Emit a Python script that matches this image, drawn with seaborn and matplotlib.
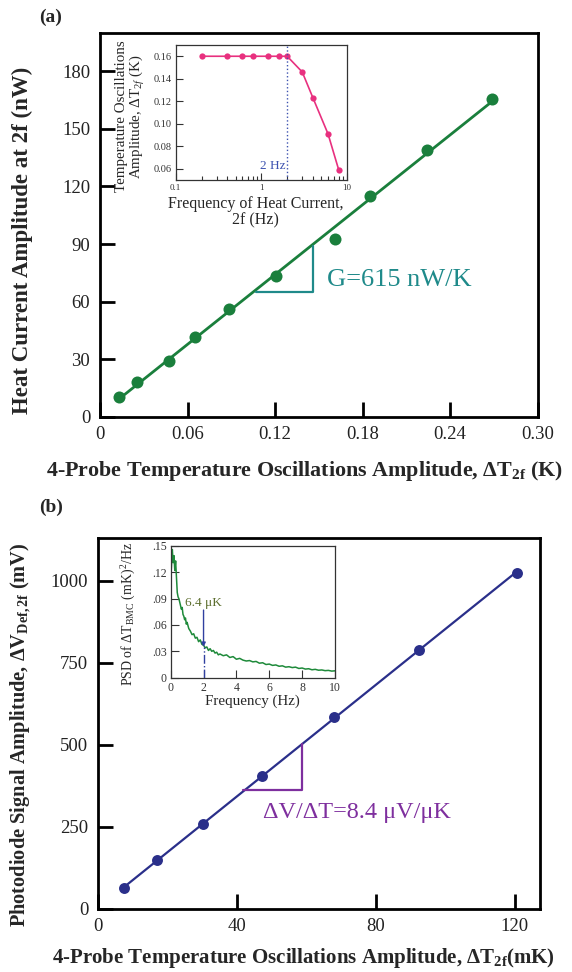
import numpy as np
import pandas as pd
import matplotlib.pyplot as plt
import seaborn as sns

# ── panel (a): heat current vs 4-probe temperature amplitude ──
dt_a = [0.0133, 0.0255, 0.047, 0.0653, 0.0886, 0.1205, 0.1608, 0.1848, 0.2243, 0.2685]
heat_a = [10.1, 18.3, 28.8, 41.4, 56.0, 73.4, 92.8, 114.8, 139.0, 165.4]
xticks_a = [0, 0.06, 0.12, 0.18, 0.24, 0.30]
xticklabels_a = ["0", "0.06", "0.12", "0.18", "0.24", "0.30"]
yticks_a = [0, 30, 60, 90, 120, 150, 180]

# inset (a): temperature oscillation amplitude vs frequency
freq_a = [0.2, 0.4, 0.6, 0.8, 1.2, 1.6, 2.0, 3.0, 4.0, 6.0, 8.0]
amp_a = [0.16, 0.16, 0.16, 0.16, 0.16, 0.16, 0.16, 0.146, 0.123, 0.091, 0.059]
yticks_ia = [0.06, 0.08, 0.10, 0.12, 0.14, 0.16]

# ── panel (b): photodiode signal vs 4-probe temperature amplitude ──
dt_b = [7.6, 17.0, 30.1, 47.2, 67.9, 92.4, 120.5]
sig_b = [64, 147, 259, 404, 583, 790, 1024]
xticks_b = [0, 40, 80, 120]
yticks_b = [0, 250, 500, 750, 1000]

# inset (b): PSD of the temperature noise
psd_freq = [0.02, 0.05, 0.10, 0.15, 0.20, 0.25, 0.30, 0.35, 0.40, 0.45,
            0.50, 0.55, 0.60, 0.65, 0.70, 0.75, 0.80, 0.85, 0.90, 0.95,
            1.0, 1.1, 1.2, 1.3, 1.4, 1.5, 1.6, 1.7, 1.8, 1.9,
            2.0, 2.1, 2.2, 2.3, 2.4, 2.5, 2.6, 2.7, 2.8, 2.9,
            3.0, 3.2, 3.4, 3.6, 3.8, 4.0, 4.2, 4.4, 4.6, 4.8,
            5.0, 5.2, 5.4, 5.6, 5.8, 6.0, 6.2, 6.4, 6.6, 6.8,
            7.0, 7.2, 7.4, 7.6, 7.8, 8.0, 8.2, 8.4, 8.6, 8.8,
            9.0, 9.2, 9.4, 9.6, 9.8, 10.0]
psd_val = [0.118, 0.128, 0.146, 0.131, 0.139, 0.122, 0.133, 0.115, 0.097, 0.092,
           0.090, 0.086, 0.082, 0.078, 0.080, 0.072, 0.070, 0.066, 0.068, 0.061,
           0.063, 0.056, 0.053, 0.049, 0.050, 0.045, 0.046, 0.041, 0.043, 0.038,
           0.037, 0.034, 0.035, 0.031, 0.033, 0.030, 0.031, 0.028, 0.029, 0.026,
           0.027, 0.025, 0.026, 0.023, 0.024, 0.021, 0.022, 0.020, 0.019, 0.0195,
           0.018, 0.0185, 0.0165, 0.017, 0.015, 0.0155, 0.014, 0.0145, 0.013, 0.0135,
           0.012, 0.0125, 0.0115, 0.012, 0.0105, 0.011, 0.0098, 0.0102, 0.009, 0.0095,
           0.0085, 0.0088, 0.008, 0.0083, 0.0075, 0.0078]
yticks_ib = [0, 0.03, 0.06, 0.09, 0.12, 0.15]
yticklabels_ib = ["0", ".03", ".06", ".09", ".12", ".15"]

GREEN = "#1a7f3c"
TEAL = "#1f8a8a"
PINK = "#e8307f"
NAVY = "#2a2f8a"
PURPLE = "#7e2f9e"
PSD_GREEN = "#1e8a3a"

sns.set_theme(style="ticks")
plt.rcParams['font.family'] = ['Liberation Serif', 'DejaVu Serif']
plt.rcParams['mathtext.fontset'] = 'custom'
plt.rcParams['mathtext.rm'] = 'Liberation Serif'
plt.rcParams['mathtext.it'] = 'Liberation Serif:italic'
plt.rcParams['mathtext.bf'] = 'Liberation Serif:bold'

fig = plt.figure(figsize=(5.72, 9.72), dpi=100)


def style_main(ax):
    for s in ax.spines.values():
        s.set_linewidth(2.0)
        s.set_color("black")
    ax.tick_params(direction="in", length=11, width=2.0, labelsize=13.5, pad=7,
                   colors="black", labelcolor="#222222")


def style_inset(ax):
    for s in ax.spines.values():
        s.set_linewidth(0.9)
        s.set_color("#333333")
    ax.tick_params(which="both", direction="in", width=0.8, colors="#333333")
    ax.tick_params(which="major", length=5)
    ax.tick_params(which="minor", length=3)


# ── (a) main ──
ax_a = fig.add_axes([0.1748, 0.5713, 0.7652, 0.3948])
df_a = pd.DataFrame({"dT": dt_a, "P": heat_a})
sns.regplot(data=df_a, x="dT", y="P", ax=ax_a, ci=None, color=GREEN,
            scatter_kws={"s": 75, "alpha": 1, "linewidths": 0},
            line_kws={"lw": 2.0})
ax_a.set_xlim(0, 0.30)
ax_a.set_ylim(0, 200)
ax_a.set_xticks(xticks_a, xticklabels_a)
ax_a.set_yticks(yticks_a)
style_main(ax_a)
ax_a.set_xlabel(r"4-Probe Temperature Oscillations Amplitude, ΔT$_{\mathbf{2f}}$ (K)",
                fontsize=15.8, fontweight="bold")
ax_a.set_ylabel("Heat Current Amplitude at 2f (nW)", fontsize=16.5, fontweight="bold")
ax_a.xaxis.set_label_coords(0.468, -0.11)
ax_a.yaxis.set_label_coords(-0.152, 0.46)
ax_a.plot([0.107, 0.1458, 0.1458], [64.9, 64.9, 89.0], color=TEAL, lw=1.6)
ax_a.text(0.1555, 71.3, "G=615 nW/K", color=TEAL, fontsize=19, va="center", ha="left")
fig.text(0.089, 0.982, "(a)", fontsize=14, fontweight="bold", ha="center", va="center")

# ── (a) inset ──
ia = fig.add_axes([0.3072, 0.8148, 0.2995, 0.1389])
sns.lineplot(x=freq_a, y=amp_a, ax=ia, color=PINK, lw=1.2, marker="o",
             markersize=4.5, markeredgewidth=0)
ia.set_xscale("log")
ia.set_xlim(0.1, 10)
ia.set_ylim(0.05, 0.17)
ia.set_xticks([0.1, 1, 10], ["0.1", "1", "10"])
ia.set_yticks(yticks_ia, [f"{v:.2f}" for v in yticks_ia])
style_inset(ia)
ia.tick_params(axis="x", labelsize=6.5, pad=3)
ia.tick_params(axis="y", labelsize=7.5, pad=3)
ia.axvline(2.0, color="#3d52b0", ls=":", lw=1.0)
ia.text(1.93, 0.0625, "2 Hz", color="#3d52b0", fontsize=9.5, ha="right", va="center")
ia.set_xlabel("Frequency of Heat Current,\n2f (Hz)", fontsize=11.5, linespacing=1.05)
ia.set_ylabel("Temperature Oscillations\nAmplitude, ΔT$_{2f}$ (K)", fontsize=10.8,
              linespacing=1.0)
ia.xaxis.set_label_coords(0.467, -0.12)
ia.yaxis.set_label_coords(-0.165, 0.47)

# ── (b) main ──
ax_b = fig.add_axes([0.1713, 0.0651, 0.7727, 0.3814])
df_b = pd.DataFrame({"dT": dt_b, "V": sig_b})
sns.regplot(data=df_b, x="dT", y="V", ax=ax_b, ci=None, color=NAVY,
            scatter_kws={"s": 62, "alpha": 1, "linewidths": 0},
            line_kws={"lw": 1.6})
ax_b.set_xlim(0, 127.2)
ax_b.set_ylim(0, 1130)
ax_b.set_xticks(xticks_b)
ax_b.set_yticks(yticks_b)
style_main(ax_b)
ax_b.set_xlabel(r"4-Probe Temperature Oscillations Amplitude, ΔT$_{\mathbf{2f}}$(mK)",
                fontsize=15, fontweight="bold")
ax_b.set_ylabel(r"Photodiode Signal Amplitude, ΔV$_{\mathbf{Def,2f}}$ (mV)",
                fontsize=14.7, fontweight="bold")
ax_b.xaxis.set_label_coords(0.466, -0.1)
ax_b.yaxis.set_label_coords(-0.148, 0.47)
ax_b.plot([41.8, 58.7, 58.7], [360.4, 360.4, 502.6], color=PURPLE, lw=1.6)
ax_b.text(47.4, 294.4, "ΔV/ΔT=8.4 μV/μK", color=PURPLE, fontsize=17.5,
          va="center", ha="left")
fig.text(0.089, 0.478, "(b)", fontsize=14, fontweight="bold", ha="center", va="center")

# ── (b) inset ──
ib = fig.add_axes([0.2984, 0.3028, 0.2872, 0.1355])
sns.lineplot(x=psd_freq, y=psd_val, ax=ib, color=PSD_GREEN, lw=1.1)
ib.set_xlim(0, 10)
ib.set_ylim(0, 0.15)
ib.set_xticks([0, 2, 4, 6, 8, 10])
ib.set_yticks(yticks_ib, yticklabels_ib)
style_inset(ib)
ib.tick_params(which="major", length=6)
ib.tick_params(labelsize=8.5, pad=3)
ib.annotate("", xy=(2.0, 0.035), xytext=(2.0, 0.077),
            arrowprops=dict(arrowstyle="-|>", color="#3040a0", lw=1.0,
                            mutation_scale=6, shrinkA=0, shrinkB=0))
ib.plot([2.0, 2.0], [0, 0.035], color="#3040a0", ls="-.", lw=1.0)
ib.text(0.9, 0.085, "6.4 μK", color="#5c6e2e", fontsize=9.5, va="center", ha="left")
ib.set_xlabel("Frequency (Hz)", fontsize=10.8)
ib.set_ylabel(r"PSD of ΔT$_{\rm BMC}$ (mK)$^2$/Hz", fontsize=10)
ib.xaxis.set_label_coords(0.497, -0.13)
ib.yaxis.set_label_coords(-0.2, 0.48)

fig.savefig("out.png", dpi=100)
